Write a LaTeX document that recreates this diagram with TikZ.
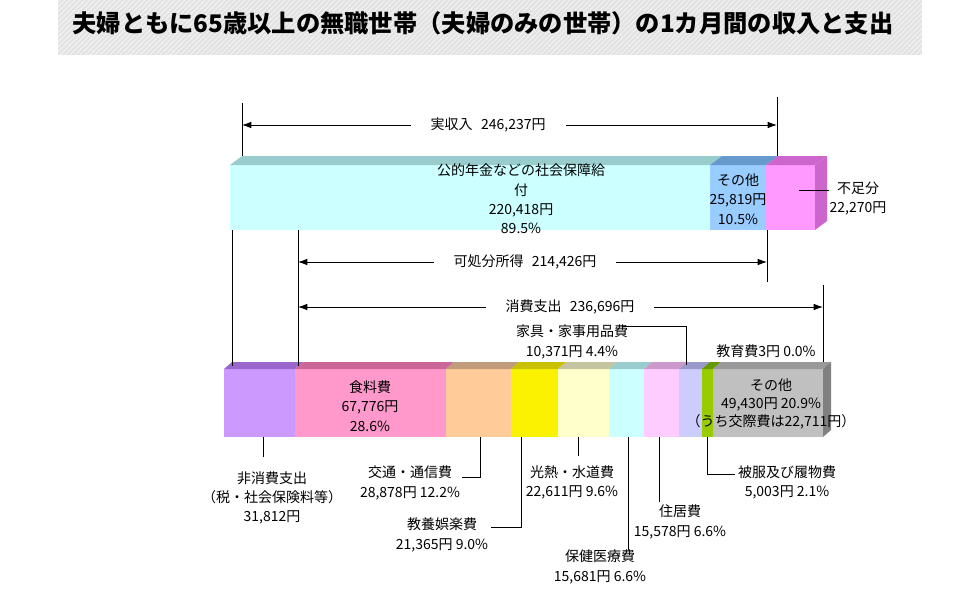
\documentclass[tikz,border=0pt]{standalone}
\usepackage{fontspec}
\setmainfont{Noto Sans CJK JP}
\usetikzlibrary{arrows.meta,calc}
\definecolor{cyanF}{HTML}{CCFFFF}\definecolor{cyanT}{HTML}{99CCCC}
\definecolor{blueF}{HTML}{99CCFF}\definecolor{blueT}{HTML}{6699CC}
\definecolor{pinkF}{HTML}{FF99FF}\definecolor{pinkT}{HTML}{CC66CC}
\definecolor{purF}{HTML}{CC99FF}\definecolor{purT}{HTML}{9966CC}
\definecolor{foodF}{HTML}{FF99CC}\definecolor{foodT}{HTML}{CC6699}
\definecolor{peachF}{HTML}{FFCC99}\definecolor{peachT}{HTML}{C09C7C}
\definecolor{yelF}{HTML}{FAF200}\definecolor{yelT}{HTML}{C8C000}
\definecolor{ltyF}{HTML}{FFFFCC}\definecolor{ltyT}{HTML}{C4C4A0}
\definecolor{ltpF}{HTML}{FFCCFF}\definecolor{ltpT}{HTML}{CC99CC}
\definecolor{lavF}{HTML}{CCCCFF}\definecolor{lavT}{HTML}{9999CC}
\definecolor{grnF}{HTML}{99CC00}\definecolor{grnT}{HTML}{669900}
\definecolor{gryF}{HTML}{C0C0C0}\definecolor{gryT}{HTML}{999999}\definecolor{gryS}{HTML}{808080}
\definecolor{band}{HTML}{E2E2E2}\definecolor{stripe}{HTML}{F2F2F2}

\begin{document}
\begin{tikzpicture}[x=.75pt,y=-.75pt,line width=.7pt,
  lbl/.style={font=\fontsize{10.5}{14.5}\selectfont,align=center,inner sep=0pt},
  dim/.style={{Latex[length=7pt,width=5pt]}-{Latex[length=7pt,width=5pt]}},
  gap/.style={fill=white,inner xsep=15pt,inner ysep=1pt,font=\fontsize{10.5}{12}\selectfont}]
\useasboundingbox (0,0) rectangle (980,596);

% title band
\fill[band] (58,0) rectangle (922,55);
\begin{scope}
  \clip (58,0) rectangle (922,55);
  \foreach \i in {0,5,...,980} \draw[stripe,line width=.8pt] (\i,55) -- ({\i+55},0);
\end{scope}
\node[font=\bfseries\fontsize{18.2}{20}\selectfont,anchor=west,inner sep=0pt] (title) at (72,23)
  {夫婦ともに65歳以上の無職世帯（夫婦のみの世帯）の1カ月間の収入と支出};

% income bar
\foreach \a/\b/\f/\t in {230/710/cyanF/cyanT,710/766/blueF/blueT,766/815/pinkF/pinkT}{
  \fill[\f] (\a,165) rectangle (\b,230);
  \fill[\t] (\a,165) -- ({\a+12},156) -- ({\b+12},156) -- (\b,165) -- cycle;
}
\fill[pinkT] (815,165) -- (827,156) -- (827,221) -- (815,230) -- cycle;

% expense bar
\foreach \a/\b/\f/\t in {224/295/purF/purT,295/446/foodF/foodT,446/511/peachF/peachT,
    511/558/yelF/yelT,558/609/ltyF/ltyT,609/644/cyanF/cyanT,644/679/ltpF/ltpT,
    679/702/lavF/lavT,702/713/grnF/grnT,713/823/gryF/gryT}{
  \fill[\f] (\a,369) rectangle (\b,437);
  \fill[\t] (\a,369) -- ({\a+8},362) -- ({\b+8},362) -- (\b,369) -- cycle;
}
\fill[gryS] (823,369) -- (831,362) -- (831,430) -- (823,437) -- cycle;

% dimension lines
\draw (242,103) -- (242,156);
\draw (777,97) -- (777,156);
\draw (232,230) -- (232,366);
\draw (298,230) -- (298,366);
\draw (767,230) -- (767,282);
\draw (823,285) -- (823,362);
\draw[dim] (242,125) -- (777,125) node[gap,pos=.46] (inc) {実収入\hspace{.6em}246,237円};
\draw[dim] (298,262) -- (767,262) node[gap,pos=.484] (disp) {可処分所得\hspace{.6em}214,426円};
\draw[dim] (298,307) -- (823,307) node[gap,pos=.518] (cons) {消費支出\hspace{.6em}236,696円};

% labels in the bars
\node[lbl] (pension) at (521,199) {公的年金などの社会保障給\\付\\220,418円\\89.5\%};
\node[lbl] (otherIn) at (738,199) {その他\\25,819円\\10.5\%};
\node[lbl] (food) at (370,406) {食料費\\67,776円\\28.6\%};
\node[lbl,font=\fontsize{10.5}{13.5}\selectfont] (otherEx) at (771,404) {その他\\49,430円 20.9\%\\（うち交際費は22,711円）};
\node[lbl] (edu) at (766,351) {教育費3円 0.0\%};

% labels with leaders
\node[lbl] (fusoku) at (858,198.5) {不足分\\22,270円};
\coordinate (cFus) at (799,190);
\draw (cFus) -- (cFus -| fusoku.west);

\node[lbl] (kagu) at (572,342) {家具・家事用品費\\10,371円 4.4\%};
\coordinate (cKagu) at (686,365);
\draw (cKagu) |- ($(kagu.east)+(-6,-16)$);

\node[lbl] (nonc) at (272,498) {非消費支出\\（税・社会保険料等）\\31,812円};
\coordinate (cNon) at (263,437);
\draw (cNon) -- ($(cNon |- nonc.north)+(0,-14)$);

\node[lbl] (kotsu) at (410,483) {交通・通信費\\28,878円 12.2\%};
\coordinate (cKotsu) at (480,437);
\draw (cKotsu) |- ($(kotsu.east)+(2,-6)$);

\node[lbl] (kyoyo) at (442,535) {教養娯楽費\\21,365円 9.0\%};
\coordinate (cKyoyo) at (521,437);
\draw (cKyoyo) |- ($(kyoyo.east)+(2,-8)$);

\node[lbl] (konetsu) at (572,482.5) {光熱・水道費\\22,611円 9.6\%};
\coordinate (cKonetsu) at (578,437);
\draw (cKonetsu) -- ($(cKonetsu |- konetsu.north)+(0,-9)$);

\node[lbl] (hoken) at (600,567) {保健医療費\\15,681円 6.6\%};
\coordinate (cHoken) at (628,437);
\draw (cHoken) -- (cHoken |- hoken.north);

\node[lbl] (jukyo) at (680,522) {住居費\\15,578円 6.6\%};
\coordinate (cJukyo) at (659,437);
\draw (cJukyo) -- ($(cJukyo |- jukyo.north)+(0,-3)$);

\node[lbl] (hifuku) at (787,482.5) {被服及び履物費\\5,003円 2.1\%};
\coordinate (cHifuku) at (707,437);
\draw (cHifuku) |- ($(hifuku.west)+(-3,-8)$);
\end{tikzpicture}
\end{document}
